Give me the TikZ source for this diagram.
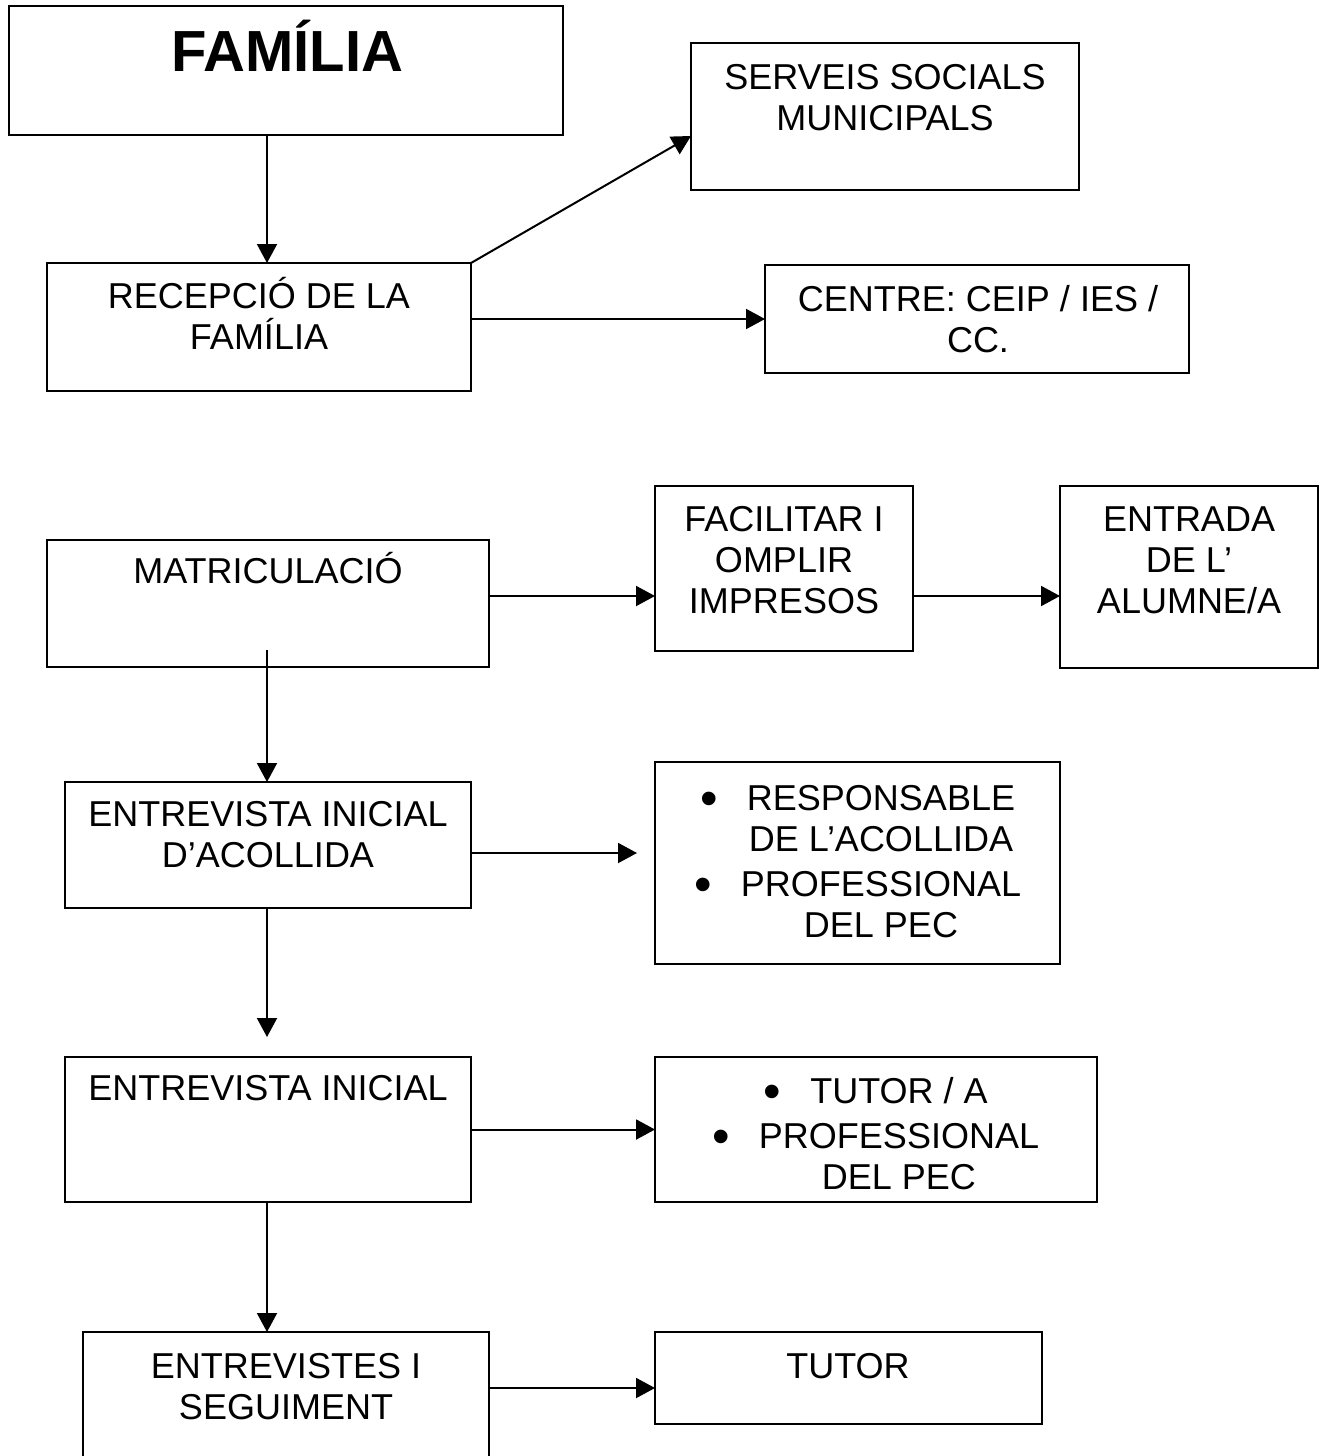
\documentclass[tikz,border=0pt]{standalone}
\usepackage{fontspec}
\setmainfont{Liberation Sans}
\usetikzlibrary{arrows.meta,fit}
\newcommand\fstrut{\rule{0pt}{18pt}}
\newcommand\bul[1]{\llap{{\fontsize{25}{25}\selectfont\raisebox{-2.5pt}{\textbullet}}\hspace{#1}}}
\begin{document}
\begin{tikzpicture}[x=0.5pt,y=-0.5pt,
  box/.style={draw,line width=1pt,inner sep=0pt,outer sep=0pt},
  txt/.style={font=\fontsize{18}{20.5}\selectfont,align=center,anchor=north,inner sep=0pt,outer sep=0pt},
  arr/.style={line width=1pt,-{Triangle[length=9.5pt,width=10pt]}}]
\useasboundingbox (0,0) rectangle (1324,1456);
\clip (0,0) rectangle (1324,1456);
% boxes
\node[box,fit={(9,6) (563,135)}] (fam) {};
\node[box,fit={(691,43) (1079,190)}] (serv) {};
\node[box,fit={(47,263) (471,391)}] (rec) {};
\node[box,fit={(765,265) (1189,373)}] (cent) {};
\node[box,fit={(47,540) (489,667)}] (mat) {};
\node[box,fit={(655,486) (913,651)}] (fac) {};
\node[box,fit={(1060,486) (1318,668)}] (ent) {};
\node[box,fit={(65,782) (471,908)}] (acol) {};
\node[box,fit={(655,762) (1060,964)}] (bulb) {};
\node[box,fit={(65,1057) (471,1202)}] (ini) {};
\node[box,fit={(655,1057) (1097,1202)}] (tut) {};
\node[box,fit={(83,1332) (489,1480)}] (seg) {};
\node[box,fit={(655,1332) (1042,1424)}] (tutor) {};
% texts
\node[font=\fontsize{29}{34}\selectfont\bfseries,anchor=base,inner sep=0pt] (tfam) at (287,71) {FAMÍLIA};
\node[txt] (tserv) at (885,53) {\fstrut SERVEIS SOCIALS\\MUNICIPALS};
\node[txt] (trec) at (259,272) {\fstrut RECEPCIÓ DE LA\\FAMÍLIA};
\node[txt] (tcent) at (978,275) {\fstrut CENTRE: CEIP / IES /\\CC.};
\node[txt] (tmat) at (268,547) {\fstrut MATRICULACIÓ};
\node[txt] (tfac) at (784,495) {\fstrut FACILITAR I\\OMPLIR\\IMPRESOS};
\node[txt] (tent) at (1189,495) {\fstrut ENTRADA\\DE L’\\ALUMNE/A};
\node[txt] (tacol) at (268,790) {\fstrut ENTREVISTA INICIAL\\D’ACOLLIDA};
\node[txt] (tbul) at (881,774) {\fstrut\bul{14.5pt}RESPONSABLE\\DE L’ACOLLIDA\\[2pt]\bul{14.5pt}PROFESSIONAL\\DEL PEC};
\node[txt] (tini) at (268,1064) {\fstrut ENTREVISTA INICIAL};
\node[txt] (ttut) at (899,1067) {\fstrut\bul{14.5pt}TUTOR / A\\[2pt]\bul{14.5pt}PROFESSIONAL\\DEL PEC};
\node[txt] (tseg) at (286,1342) {\fstrut ENTREVISTES I\\SEGUIMENT};
\node[txt] (ttutor) at (848,1342) {\fstrut TUTOR};
% connectors
\coordinate (cx) at (267,0);
\coordinate (sv) at (0,136);
\coordinate (m) at (0,596);
\coordinate (ms) at (267,650);
\coordinate (ae) at (637,853);
\coordinate (ad) at (267,1037);
\coordinate (st) at (0,1388);
\draw[arr] (fam.south -| cx) -- (rec.north -| cx);
\draw[arr] (rec.north east) -- (serv.west |- sv);
\draw[arr] (cent.west -| rec.east) -- (cent.west);
\draw[arr] (mat.east |- m) -- (fac.west |- m);
\draw[arr] (fac.east |- m) -- (ent.west |- m);
\draw[arr] (ms) -- (acol.north -| ms);
\draw[arr] (acol.east |- ae) -- (ae);
\draw[arr] (acol.south -| ad) -- (ad);
\draw[arr] (ini.east) -- (tut.west);
\draw[arr] (ini.south -| cx) -- (seg.north -| cx);
\draw[arr] (seg.east |- st) -- (tutor.west |- st);
\end{tikzpicture}
\end{document}
